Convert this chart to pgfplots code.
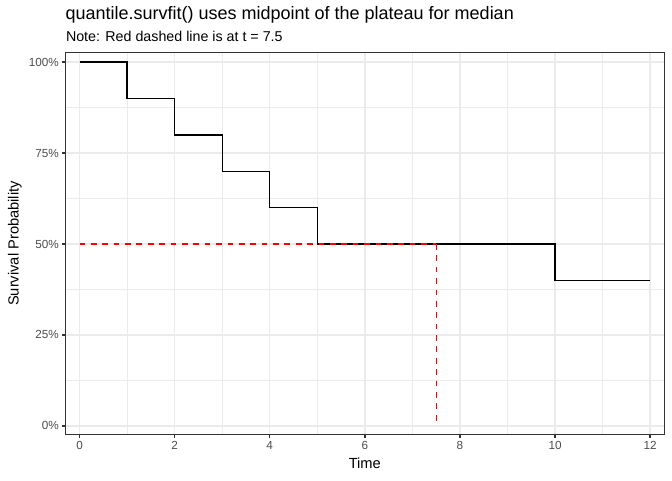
\documentclass[border=0pt]{standalone}
\usepackage{fontspec}
\setmainfont{Liberation Sans}
\usepackage{pgfplots}
\pgfplotsset{compat=1.18}
\definecolor{grey92}{gray}{0.92}
\definecolor{grey20}{gray}{0.2}
\definecolor{grey30}{gray}{0.3}
\begin{document}
\begin{tikzpicture}
\path[use as bounding box] (0,0) rectangle (504pt,360pt);
\begin{axis}[
  at={(49.3pt,34.3pt)}, anchor=south west,
  scale only axis, width=448.7pt, height=286.2pt,
  xmin=-0.29, xmax=12.29, ymin=-0.023, ymax=1.026,
  xtick={0,2,...,12}, ytick={0,0.25,0.5,0.75,1},
  yticklabels={0\%,25\%,50\%,75\%,100\%},
  minor xtick={1,3,...,11}, minor ytick={0.125,0.375,0.625,0.875},
  grid=both,
  major grid style={grey92, line width=1.07pt},
  minor grid style={grey92, line width=0.53pt},
  axis line style={grey20, line width=0.75pt},
  tick align=outside, tick pos=left,
  major tick length=2.75pt, minor tick length=0pt,
  major tick style={grey20, line width=1.07pt},
  ticklabel style={font=\fontsize{8.8}{10}\selectfont, text=grey30, inner sep=2.2pt},
  /pgf/number format/assume math mode=true,
]
\addplot[black, line width=1pt, const plot, mark=none] coordinates {
  (0,1) (1,0.9) (2,0.8) (3,0.7) (4,0.6) (5,0.5) (10,0.4) (12,0.4)
};
\addplot[red, line width=1pt, dash pattern=on 4.27pt off 4.27pt, mark=none] coordinates {
  (0,0.5) (7.5,0.5)
};
\addplot[red, line width=1pt, dash pattern=on 4.27pt off 4.27pt, mark=none] coordinates {
  (7.5,0.5) (7.5,0)
};
\end{axis}
\node[anchor=base west, inner sep=0pt, font=\fontsize{13.5}{15}\selectfont] at (49pt,345.7pt) {quantile.survfit() uses midpoint of the plateau for median};
\node[anchor=base west, inner sep=0pt, font=\fontsize{10.7}{13}\selectfont] at (49.3pt,329.2pt) {Note: Red dashed line is at t = 7.5};
\node[anchor=base, inner sep=0pt, font=\fontsize{11}{13}\selectfont] at (273.6pt,8.3pt) {Time};
\node[anchor=base, rotate=90, inner sep=0pt, font=\fontsize{11}{13}\selectfont] at (14pt,177.4pt) {Survival Probability};
\end{tikzpicture}
\end{document}
